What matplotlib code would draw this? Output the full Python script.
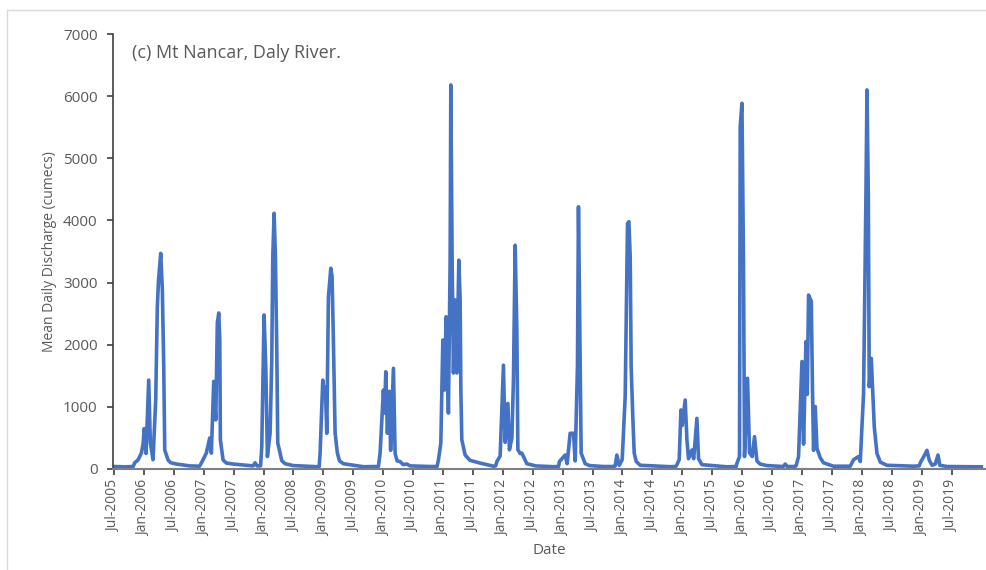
import matplotlib
matplotlib.use('Agg')
import matplotlib.pyplot as plt
from matplotlib.lines import Line2D

# decimal year / mean daily discharge (cumecs)
year = [2005.500, 2005.684, 2005.820, 2005.846, 2005.901, 2005.957, 2005.985, 2006.005, 2006.025,
        2006.035, 2006.080, 2006.107, 2006.152, 2006.197, 2006.224, 2006.244, 2006.281,
        2006.308, 2006.331, 2006.348, 2006.403, 2006.450, 2006.542, 2006.766,
        2006.930, 2006.960, 2007.043, 2007.100, 2007.127, 2007.167, 2007.201, 2007.227, 2007.251,
        2007.268, 2007.278, 2007.323, 2007.380, 2007.490, 2007.824, 2007.858, 2007.891,
        2007.950, 2007.970, 2008.008, 2008.037, 2008.064, 2008.109, 2008.137, 2008.154, 2008.176,
        2008.197, 2008.221, 2008.237, 2008.304, 2008.360, 2008.498, 2008.890,
        2008.930, 2008.945, 2008.990, 2009.012, 2009.033, 2009.057, 2009.084, 2009.124, 2009.145,
        2009.167, 2009.196, 2009.234, 2009.270, 2009.334, 2009.669,
        2009.920, 2009.948, 2010.003, 2010.023, 2010.043, 2010.070, 2010.103, 2010.124, 2010.171,
        2010.199, 2010.232, 2010.283, 2010.333, 2010.395, 2010.450, 2010.784,
        2010.900, 2010.923, 2010.963, 2010.997, 2011.023, 2011.052, 2011.069, 2011.090, 2011.119,
        2011.130, 2011.152, 2011.174, 2011.202, 2011.231, 2011.264, 2011.286, 2011.298,
        2011.314, 2011.370, 2011.450, 2011.620, 2011.843,
        2011.880, 2011.900, 2011.955, 2011.983, 2012.010, 2012.038, 2012.084, 2012.110, 2012.151,
        2012.177, 2012.206, 2012.234, 2012.251, 2012.289, 2012.318, 2012.401, 2012.550, 2012.846,
        2012.930, 2012.946, 2013.042, 2013.075, 2013.125, 2013.181, 2013.209, 2013.247, 2013.264,
        2013.293, 2013.309, 2013.376, 2013.450, 2013.682,
        2013.860, 2013.878, 2013.906, 2013.945, 2013.995, 2014.045, 2014.084, 2014.107, 2014.129,
        2014.145, 2014.174, 2014.196, 2014.230, 2014.296, 2014.798,
        2014.890, 2014.910, 2014.948, 2014.977, 2014.998, 2015.048, 2015.077, 2015.104, 2015.160,
        2015.190, 2015.244, 2015.271, 2015.328, 2015.746,
        2015.900, 2015.913, 2015.956, 2015.968, 2015.997, 2016.023, 2016.040, 2016.090, 2016.124,
        2016.169, 2016.207, 2016.247, 2016.300, 2016.415, 2016.687, 2016.721, 2016.754,
        2016.890, 2016.905, 2016.943, 2017.000, 2017.027, 2017.067, 2017.089, 2017.110, 2017.156,
        2017.177, 2017.194, 2017.222, 2017.251, 2017.306, 2017.360, 2017.528, 2017.808,
        2017.863, 2017.947, 2017.975, 2018.030, 2018.070, 2018.087, 2018.109, 2018.125,
        2018.159, 2018.184, 2018.209, 2018.254, 2018.310, 2018.421, 2018.866,
        2018.960, 2018.978, 2019.045, 2019.090, 2019.129, 2019.174, 2019.229, 2019.274, 2019.304,
        2019.425, 2019.998]
discharge = [40, 35, 40, 100, 145, 255, 400, 650, 350,
             250, 1430, 420, 150, 1110, 2610, 3040, 3470,
             2880, 1650, 305, 145, 100, 80, 50,
             45, 95, 255, 500, 255, 1410, 790, 2350, 2510,
             2080, 470, 145, 95, 80, 50, 100, 50,
             50, 360, 2480, 1650, 200, 575, 1750, 3420, 4115,
             3470, 1915, 420, 135, 85, 55, 37,
             40, 255, 1430, 1220, 1320, 575, 2770, 3230, 3100,
             2080, 575, 255, 130, 85, 37,
             40, 255, 1270, 900, 1565, 575, 1250, 300, 1620,
             250, 130, 120, 70, 80, 50, 40,
             40, 145, 415, 2075, 1270, 2450, 1900, 900, 3360,
             6180, 3360, 1545, 2720, 1545, 3360, 2720, 1270,
             470, 225, 140, 95, 45,
             50, 120, 210, 950, 1670, 430, 1055, 310, 500,
             1430, 3600, 2240, 310, 250, 255, 85, 50, 37,
             40, 120, 225, 85, 575, 575, 130, 1650, 4220,
             1650, 255, 85, 55, 40,
             40, 50, 225, 60, 150, 1165, 3950, 3980, 3410,
             1650, 790, 255, 120, 60, 37,
             40, 70, 150, 950, 700, 1110, 470, 165, 305,
             165, 815, 165, 70, 35,
             40, 90, 200, 5510, 5885, 3310, 200, 1460, 260,
             200, 520, 130, 80, 55, 40, 80, 40,
             40, 60, 200, 1730, 400, 2050, 1200, 2800, 2700,
             1220, 300, 1005, 330, 180, 100, 45, 45,
             150, 200, 120, 1220, 4435, 6100, 4435, 1325,
             1780, 1220, 680, 250, 110, 60, 45,
             50, 100, 215, 300, 140, 60, 80, 225, 60,
             40, 35]

tick_years = [2005.5 + 0.5 * i for i in range(29)]
tick_labels = []
for i in range(29):
    y = 2005 + (i + 1) // 2
    tick_labels.append(('Jul-' if i % 2 == 0 else 'Jan-') + str(y))

plt.rcParams['font.family'] = ['Open Sans', 'DejaVu Sans']
grey = '#595959'

fig = plt.figure(figsize=(9.86, 5.70), dpi=100)
W, H = 986.0, 570.0
ax = fig.add_axes([113 / W, 1 - 469 / H, (985 - 113) / W, (469 - 34) / H])

ax.plot(year, discharge, color='#4472C4', linewidth=2.6, solid_joinstyle='round')

ax.set_xlim(2005.483, 2020.06)
ax.set_ylim(0, 7000)
ax.set_yticks(range(0, 7001, 1000))
ax.set_xticks(tick_years)
ax.set_xticklabels(tick_labels, rotation=90)

for s in ['top', 'right']:
    ax.spines[s].set_visible(False)
ax.spines['left'].set_color('#404040')
ax.spines['bottom'].set_color('#7f7f7f')
ax.spines['left'].set_linewidth(1.2)
ax.spines['bottom'].set_linewidth(1.5)
ax.tick_params(axis='y', direction='out', length=4, width=1.2, color='#404040',
               labelsize=11, labelcolor=grey, pad=7)
ax.tick_params(axis='x', direction='out', length=4, width=1.2, color='#404040',
               labelsize=10, labelcolor=grey, pad=4)

ax.set_ylabel('Mean Daily Discharge (cumecs)', fontsize=10, color=grey, labelpad=4.5)
ax.set_xlabel('Date', fontsize=11, color=grey, labelpad=5)

fig.text(132 / W, 1 - 53 / H, '(c) Mt Nancar, Daly River.', fontsize=13, color=grey,
         ha='left', va='center')

# chart area border
fig.add_artist(Line2D([7 / W, 1.0], [1 - 10 / H, 1 - 10 / H], color='#d9d9d9', linewidth=1))
fig.add_artist(Line2D([7 / W, 7 / W], [0.0, 1 - 10 / H], color='#d9d9d9', linewidth=1))

fig.savefig('out.png', dpi=100)
